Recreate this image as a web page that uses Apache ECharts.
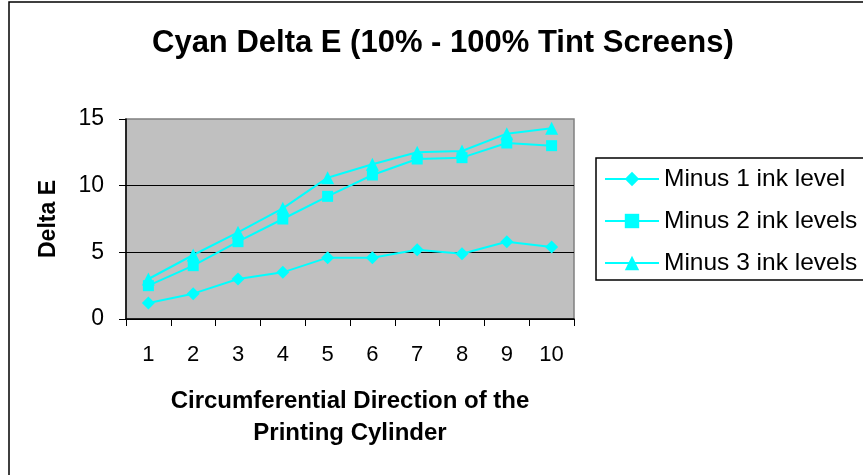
<!DOCTYPE html>
<html>
<head>
<meta charset="utf-8">
<script src="https://cdn.jsdelivr.net/npm/echarts@6/dist/echarts.min.js"></script>
<style>html,body{margin:0;padding:0;background:#fff;}#c{width:863px;height:475px;}</style>
</head>
<body>
<div id="c"></div>
<script>
const categories = ['1','2','3','4','5','6','7','8','9','10'];
const seriesNames = ['Minus 1 ink level','Minus 2 ink levels','Minus 3 ink levels'];
const minus1 = [1.2, 1.9, 3.0, 3.5, 4.6, 4.6, 5.2, 4.9, 5.8, 5.4];
const minus2 = [2.5, 4.0, 5.8, 7.5, 9.2, 10.8, 12.0, 12.1, 13.2, 13.0];
const minus3 = [3.0, 4.8, 6.5, 8.3, 10.6, 11.6, 12.5, 12.6, 13.9, 14.3];
const yTicks = [0, 5, 10, 15];

const FONT = '"Liberation Sans", Arial, sans-serif';
const chart = echarts.init(document.getElementById('c'), null, {renderer: 'canvas'});
const mk = (name, data, symbol, size) => ({
  name, type: 'line', data, symbol, symbolSize: size,
  itemStyle: {color: '#00FFFF'},
  lineStyle: {color: '#00FFFF', width: 2},
  animation: false
});
chart.setOption({
  animation: false,
  backgroundColor: '#ffffff',
  graphic: [{
    type: 'rect', z: -10, silent: true,
    shape: {x: 9, y: 2, width: 1000, height: 1000},
    style: {fill: 'none', stroke: '#000', lineWidth: 1.5}
  }, {
    type: 'rect', z: 0, silent: true,
    shape: {x: 596, y: 158, width: 400, height: 122},
    style: {fill: '#fff', stroke: '#000', lineWidth: 1.5}
  }],
  title: {
    text: 'Cyan Delta E (10% - 100% Tint Screens)',
    left: 152, top: 28, padding: 0,
    textStyle: {fontFamily: FONT, fontSize: 31, fontWeight: 'bold', color: '#000'}
  },
  grid: {
    left: 126, top: 119, width: 448, height: 200,
    show: true, backgroundColor: '#C0C0C0', borderColor: '#808080', borderWidth: 1.5
  },
  legend: {
    orient: 'vertical', left: 596, top: 158,
    padding: [7, 0, 5, 8],
    itemGap: 14, itemWidth: 54, itemHeight: 18, z: 5,
    textStyle: {fontFamily: FONT, fontSize: 24.5, color: '#000', lineHeight: 28},
    data: seriesNames
  },
  xAxis: {
    type: 'category', data: categories, boundaryGap: true,
    name: 'Circumferential Direction of the\nPrinting Cylinder',
    nameLocation: 'middle', nameGap: 66,
    nameTextStyle: {fontFamily: FONT, fontSize: 24, fontWeight: 'bold', color: '#000', lineHeight: 32},
    axisLine: {lineStyle: {color: '#000', width: 1.5}},
    axisTick: {show: true, length: 7, lineStyle: {color: '#000'}},
    axisLabel: {fontFamily: FONT, fontSize: 22, color: '#000', margin: 25},
    splitLine: {show: false}
  },
  yAxis: {
    type: 'value', min: yTicks[0], max: yTicks[yTicks.length - 1], interval: 5,
    name: 'Delta E', nameLocation: 'middle', nameGap: 66, nameRotate: 90,
    nameTextStyle: {fontFamily: FONT, fontSize: 23, fontWeight: 'bold', color: '#000'},
    axisLine: {show: true, lineStyle: {color: '#000', width: 1.5}},
    axisTick: {show: true, length: 7, lineStyle: {color: '#000'}},
    axisLabel: {fontFamily: FONT, fontSize: 23, color: '#000', margin: 22},
    splitLine: {show: true, showMaxLine: false, lineStyle: {color: '#000', width: 1}}
  },
  series: [
    mk(seriesNames[0], minus1, 'diamond', 13),
    mk(seriesNames[1], minus2, 'rect', 11),
    mk(seriesNames[2], minus3, 'triangle', 13)
  ]
});
</script>
</body>
</html>
